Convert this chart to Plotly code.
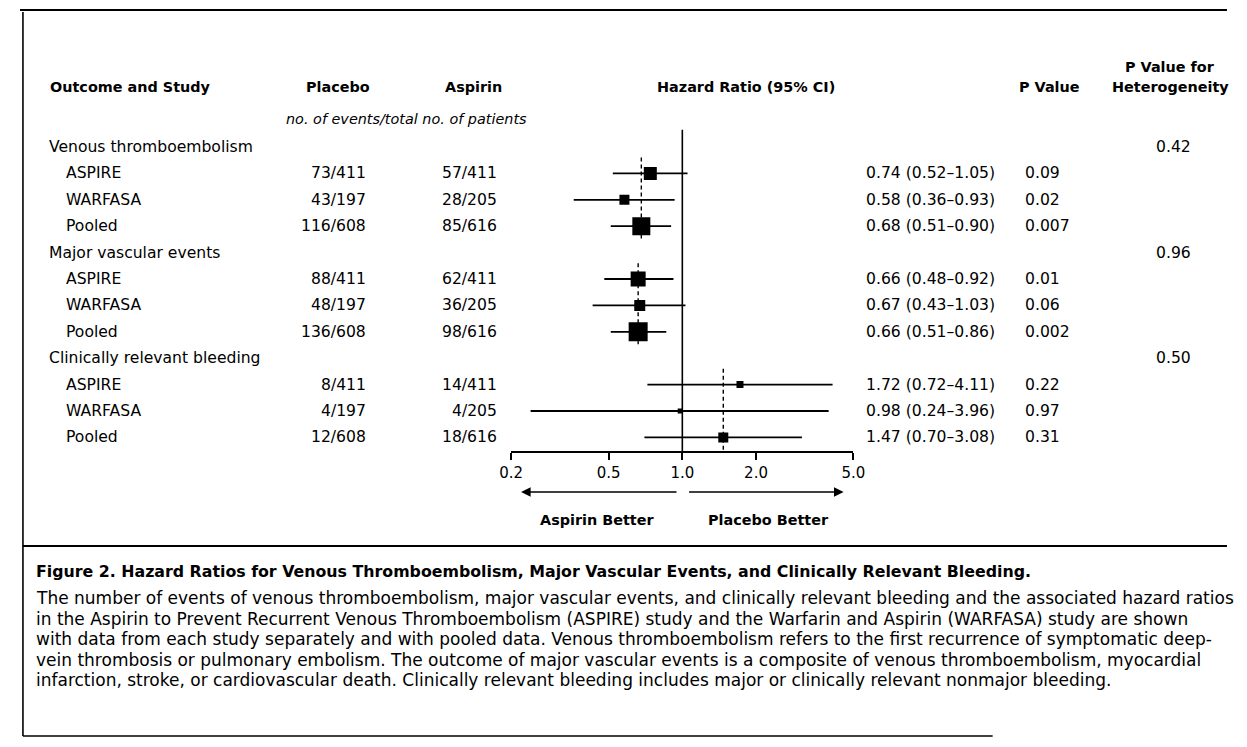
import plotly.graph_objects as go

# ---------------- data ----------------
outcomes = ["Venous thromboembolism", "Major vascular events", "Clinically relevant bleeding"]
studies = ["ASPIRE", "WARFASA", "Pooled"]
placebo = ["73/411", "43/197", "116/608",
           "88/411", "48/197", "136/608",
           "8/411", "4/197", "12/608"]
aspirin = ["57/411", "28/205", "85/616",
           "62/411", "36/205", "98/616",
           "14/411", "4/205", "18/616"]
hr = [0.74, 0.58, 0.68, 0.66, 0.67, 0.66, 1.72, 0.98, 1.47]
ci_low = [0.52, 0.36, 0.51, 0.48, 0.43, 0.51, 0.72, 0.24, 0.70]
ci_high = [1.05, 0.93, 0.90, 0.92, 1.03, 0.86, 4.11, 3.96, 3.08]
p_values = ["0.09", "0.02", "0.007", "0.01", "0.06", "0.002", "0.22", "0.97", "0.31"]
p_het = ["0.42", "0.96", "0.50"]
tick_vals = [0.2, 0.5, 1.0, 2.0, 5.0]
tick_text = ["0.2", "0.5", "1.0", "2.0", "5.0"]

caption_title = ("Figure 2. Hazard Ratios for Venous Thromboembolism, Major Vascular Events, "
                 "and Clinically Relevant Bleeding.")
caption_lines = [
    "The number of events of venous thromboembolism, major vascular events, and clinically relevant bleeding and the associated hazard ratios",
    "in the Aspirin to Prevent Recurrent Venous Thromboembolism (ASPIRE) study and the Warfarin and Aspirin (WARFASA) study are shown",
    "with data from each study separately and with pooled data. Venous thromboembolism refers to the first recurrence of symptomatic deep-",
    "vein thrombosis or pulmonary embolism. The outcome of major vascular events is a composite of venous thromboembolism, myocardial",
    "infarction, stroke, or cardiovascular death. Clinically relevant bleeding includes major or clinically relevant nonmajor bleeding.",
]

# ---------------- styling / layout ----------------
# the page body has an 8px margin, so the figure is sized to fit the window exactly
OFF = 8
W, H = 1247 - 2 * OFF, 747 - 2 * OFF
FONT = "DejaVu Sans"
FS = 15.6          # table body text
FS_HDR = 14.4      # bold column headers
FS_CAP = 17.0      # caption body
ROW0_PX = 147.0    # window pixel of first row
ROW_PX = 26.4      # pixel per row
box_px = [13, 10, 18, 15, 11, 19, 7, 5, 10]

def px(x):          # window pixel -> paper x
    return (x - OFF) / W

def py(y):          # window pixel -> paper y
    return 1 - (y - OFF) / H

header_rows = []
study_rows = []
r = 0
for o in outcomes:
    header_rows.append(r)
    r += 1
    for s in studies:
        study_rows.append(r)
        r += 1

fig = go.Figure()

AXIS_Y = 452
axis_row = (AXIS_Y - ROW0_PX) / ROW_PX
fig.add_trace(go.Scatter(x=[1.0, 1.0], y=[-0.65, axis_row], mode="lines",
                         line=dict(color="black", width=1.6), hoverinfo="skip", showlegend=False))

for g in range(3):
    pooled = hr[g * 3 + 2]
    top = header_rows[g] + 0.4
    bottom = study_rows[g * 3 + 2] + 0.5 if g < 2 else axis_row
    fig.add_trace(go.Scatter(x=[pooled, pooled], y=[top, bottom], mode="lines",
                             line=dict(color="black", width=1.4, dash="4px,3px"),
                             hoverinfo="skip", showlegend=False))

cx, cy = [], []
for i in range(len(hr)):
    cx += [ci_low[i], ci_high[i], None]
    cy += [study_rows[i], study_rows[i], None]
fig.add_trace(go.Scatter(x=cx, y=cy, mode="lines", line=dict(color="black", width=1.8),
                         hoverinfo="skip", showlegend=False))

fig.add_trace(go.Scatter(x=hr, y=study_rows, mode="markers",
                         marker=dict(symbol="square", size=box_px, color="#000000",
                                     opacity=1, line=dict(width=0)),
                         hoverinfo="skip", showlegend=False))

ann = []

def text(x, y, s, size=FS, bold=False, italic=False, anchor="left", yref="paper"):
    if bold:
        s = "<b>" + s + "</b>"
    if italic:
        s = "<i>" + s + "</i>"
    ann.append(dict(x=x, y=y, xref="paper", yref=yref, text=s, showarrow=False,
                    xanchor=anchor, yanchor="middle",
                    font=dict(family=FONT, size=size, color="black")))

HDR_Y = 87
text(px(37), py(HDR_Y), "Outcome and Study", size=FS_HDR, bold=True)
text(px(332), py(HDR_Y), "Placebo", size=FS_HDR, bold=True, anchor="center")
text(px(471), py(HDR_Y), "Aspirin", size=FS_HDR, bold=True, anchor="center")
text(px(748), py(HDR_Y), "Hazard Ratio (95% CI)", size=FS_HDR, bold=True, anchor="center")
text(px(1058), py(HDR_Y), "P Value", size=FS_HDR, bold=True, anchor="center")
text(px(1181), py(67), "P Value for", size=FS_HDR, bold=True, anchor="center")
text(px(1181), py(HDR_Y), "Heterogeneity", size=FS_HDR, bold=True, anchor="center")
text(px(402), py(119), "no. of events/total no. of patients", size=14.4, italic=True, anchor="center")

for g, o in enumerate(outcomes):
    text(px(36), header_rows[g], o, yref="y")
    text(px(1184), header_rows[g], p_het[g], anchor="center", yref="y")
for i in range(len(hr)):
    rr = study_rows[i]
    text(px(53), rr, studies[i % 3], yref="y")
    text(px(363), rr, placebo[i], anchor="right", yref="y")
    text(px(497), rr, aspirin[i], anchor="right", yref="y")
    text(px(869), rr, f"{hr[i]:.2f} ({ci_low[i]:.2f}\u2013{ci_high[i]:.2f})", yref="y")
    text(px(1031), rr, p_values[i], yref="y")

ann.append(dict(x=px(519), y=py(492), ax=157, ay=0, xref="paper", yref="paper",
                axref="pixel", ayref="pixel", text="", showarrow=True,
                arrowhead=2, arrowsize=1.2, arrowwidth=1.6, arrowcolor="black"))
ann.append(dict(x=px(848), y=py(492), ax=-156, ay=0, xref="paper", yref="paper",
                axref="pixel", ayref="pixel", text="", showarrow=True,
                arrowhead=2, arrowsize=1.2, arrowwidth=1.6, arrowcolor="black"))
text(px(596), py(520), "Aspirin Better", size=FS_HDR, bold=True, anchor="center")
text(px(771), py(520), "Placebo Better", size=FS_HDR, bold=True, anchor="center")

text(px(22), py(571), caption_title, bold=True, size=15.8)
for k, line in enumerate(caption_lines):
    text(px(22), py(598 + 20.6 * k), line, size=FS_CAP)

shapes = [
    dict(type="line", xref="paper", yref="paper", x0=0, x1=1, y0=py(10), y1=py(10),
         line=dict(color="black", width=2)),
    dict(type="line", xref="paper", yref="paper", x0=px(11), x1=px(11), y0=py(12), y1=py(736),
         line=dict(color="black", width=1.6)),
    dict(type="line", xref="paper", yref="paper", x0=px(11), x1=1, y0=py(546), y1=py(546),
         line=dict(color="black", width=2.2)),
    dict(type="line", xref="paper", yref="paper", x0=px(11), x1=px(1000), y0=py(736), y1=py(736),
         line=dict(color="black", width=1.4)),
]

fig.update_layout(
    width=W, height=H,
    margin=dict(l=0, r=0, t=0, b=0),
    paper_bgcolor="white", plot_bgcolor="white",
    font=dict(family=FONT, size=FS, color="black"),
    showlegend=False,
    annotations=ann,
    shapes=shapes,
    xaxis=dict(type="log", domain=[px(509), px(858)], range=[-0.69897, 0.69897],
               anchor="free", position=py(AXIS_Y),
               showline=True, linecolor="black", linewidth=1.6,
               ticks="outside", ticklen=7, tickwidth=1.6, tickcolor="black",
               tickvals=tick_vals, ticktext=tick_text,
               tickfont=dict(family=FONT, size=15, color="black"),
               showgrid=False, zeroline=False),
    yaxis=dict(domain=[0, 1],
               range=[(OFF + H - ROW0_PX) / ROW_PX, (OFF - ROW0_PX) / ROW_PX],
               visible=False, showgrid=False, zeroline=False),
)

fig.write_html("out.html")
